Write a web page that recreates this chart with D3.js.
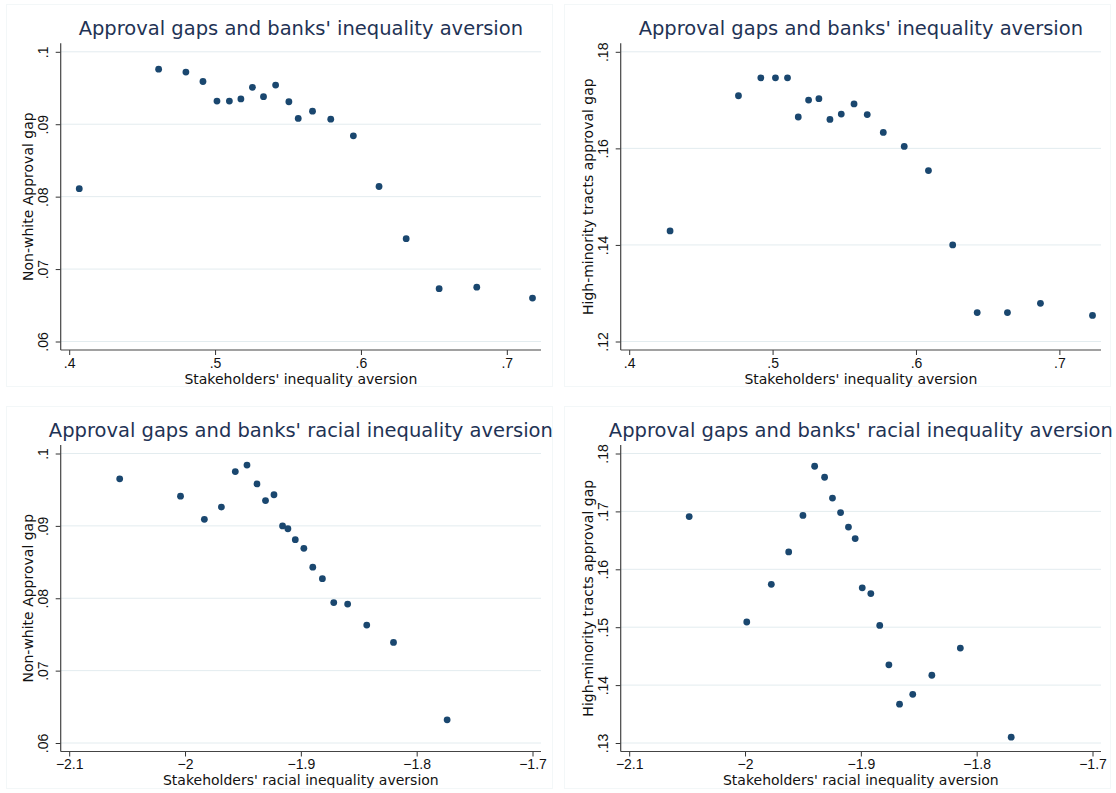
<!DOCTYPE html>
<html>
<head>
<meta charset="utf-8">
<script src="https://cdn.jsdelivr.net/npm/d3@7"></script>
<style>
  body { margin: 0; background: #fff; }
  svg { display: block; font-family: "DejaVu Sans", sans-serif; }
</style>
</head>
<body>
<div id="chart"></div>
<script>
// Binned scatter values
const ineqX1 = [.4069, .4613, .480, .4917, .5013, .5098, .5177, .5256, .5332, .5415, .5506, .557, .5668, .5793, .5948, .6124, .631, .6536, .6794, .7176];
const nonwhiteY1 = [.0811, .0976, .0972, .0959, .0932, .0932, .0935, .0951, .0938, .0954, .0931, .0908, .0918, .0907, .0884, .0814, .0742, .0673, .0675, .0660];

const ineqX2 = [.4285, .4762, .4918, .502, .5104, .5179, .5251, .5323, .54, .5479, .5568, .566, .5772, .5918, .6087, .6256, .6427, .6638, .6868, .7231];
const minorityY2 = [.1429, .1709, .1746, .1746, .1746, .1665, .17, .1703, .166, .1671, .1692, .167, .1633, .1604, .1554, .14, .126, .126, .1279, .1254];

const racialX3 = [-2.0564, -2.0039, -1.9833, -1.9686, -1.9566, -1.9465, -1.9379, -1.9305, -1.9232, -1.9158, -1.9112, -1.9048, -1.8974, -1.8897, -1.8814, -1.8716, -1.8596, -1.8431, -1.82, -1.7737];
const nonwhiteY3 = [.0965, .0941, .0909, .0926, .0975, .0984, .0958, .0935, .0943, .09, .0896, .0881, .0869, .0843, .0827, .0794, .0792, .0763, .0739, .0632];

const racialX4 = [-2.0482, -1.9985, -1.9773, -1.9623, -1.95, -1.9399, -1.9313, -1.9245, -1.9175, -1.9107, -1.9049, -1.8988, -1.8914, -1.8837, -1.8758, -1.8666, -1.8552, -1.8387, -1.8141, -1.7702];
const minorityY4 = [.1691, .1509, .1574, .163, .1693, .1778, .1759, .1723, .1698, .1673, .1653, .1568, .1558, .1503, .1435, .1367, .1384, .1417, .1464, .131];

// Tick values
const ineqTicks = [.4, .5, .6, .7];
const racialTicks = [-2.1, -2, -1.9, -1.8, -1.7];
const nonwhiteTicks = [.06, .07, .08, .09, .1];
const minorityTicks1 = [.12, .14, .16, .18];
const minorityTicks2 = [.13, .14, .15, .16, .17, .18];

// Titles
const titleIneq = "Approval gaps and banks' inequality aversion";
const titleRacial = "Approval gaps and banks' racial inequality aversion";
const xTitleIneq = "Stakeholders' inequality aversion";
const xTitleRacial = "Stakeholders' racial inequality aversion";
const yTitleNonwhite = "Non-white Approval gap";
const yTitleMinority = "High-minority tracts approval gap";

const width = 1116, height = 793;
const pad = 8.5;

// plot regions for the 2x2 grid
const cols = [[60.7, 541], [620.7, 1101]];
const rows = [[43.3, 350], [445, 751.5]];

const panels = [
  {col: 0, row: 0, xs: ineqX1, ys: nonwhiteY1, xTicks: ineqTicks, yTicks: nonwhiteTicks, title: titleIneq, xTitle: xTitleIneq, yTitle: yTitleNonwhite},
  {col: 1, row: 0, xs: ineqX2, ys: minorityY2, xTicks: ineqTicks, yTicks: minorityTicks1, title: titleIneq, xTitle: xTitleIneq, yTitle: yTitleMinority},
  {col: 0, row: 1, xs: racialX3, ys: nonwhiteY3, xTicks: racialTicks, yTicks: nonwhiteTicks, title: titleRacial, xTitle: xTitleRacial, yTitle: yTitleNonwhite},
  {col: 1, row: 1, xs: racialX4, ys: minorityY4, xTicks: racialTicks, yTicks: minorityTicks2, title: titleRacial, xTitle: xTitleRacial, yTitle: yTitleMinority}
];

// Stata style labels: drop the leading zero
const fmt = v => d3.format("~g")(v).replace(/^(-?)0\./, "$1.");

const svg = d3.select("#chart").append("svg")
  .attr("width", width)
  .attr("height", height);

// faint graph-region borders
[[6, 4], [564, 4], [6, 406], [564, 406]].forEach(([bx, by]) => {
  svg.append("rect")
    .attr("x", bx + 0.5).attr("y", by + 0.5)
    .attr("width", 546).attr("height", 382)
    .attr("fill", "none")
    .attr("stroke", "#f3f7f8");
});

panels.forEach(p => {
  const [x0, x1] = cols[p.col];
  const [y0, y1] = rows[p.row];

  const x = d3.scaleLinear()
    .domain([Math.min(p.xTicks[0], d3.min(p.xs)), Math.max(p.xTicks[p.xTicks.length - 1], d3.max(p.xs))])
    .range([x0 + pad, x1 - pad]);
  const y = d3.scaleLinear()
    .domain([Math.min(p.yTicks[0], d3.min(p.ys)), Math.max(p.yTicks[p.yTicks.length - 1], d3.max(p.ys))])
    .range([y1 - pad, y0 + pad]);

  const g = svg.append("g");

  // gridlines
  g.append("g").selectAll("line")
    .data(p.yTicks)
    .join("line")
    .attr("x1", x0).attr("x2", x1)
    .attr("y1", d => y(d)).attr("y2", d => y(d))
    .attr("stroke", "#e3ecef")
    .attr("stroke-width", 1);

  // y axis
  const yAxis = g.append("g")
    .attr("transform", `translate(${x0},0)`)
    .call(d3.axisLeft(y).tickValues(p.yTicks).tickSize(5).tickFormat(fmt));
  yAxis.select(".domain").remove();
  yAxis.selectAll(".tick line").attr("stroke", "#333");
  yAxis.selectAll(".tick text")
    .attr("x", null).attr("dy", "0.35em")
    .attr("transform", "translate(-18,0) rotate(-90)")
    .attr("text-anchor", "middle")
    .attr("font-size", 14)
    .attr("fill", "#111");

  // x axis
  const xAxis = g.append("g")
    .attr("transform", `translate(0,${y1})`)
    .call(d3.axisBottom(x).tickValues(p.xTicks).tickSize(5).tickPadding(3).tickFormat(fmt));
  xAxis.select(".domain").remove();
  xAxis.selectAll(".tick line").attr("stroke", "#333");
  xAxis.selectAll(".tick text")
    .attr("font-size", 14)
    .attr("fill", "#111");

  // axis lines over the full plot region
  g.append("line")
    .attr("x1", x0).attr("x2", x0).attr("y1", y0).attr("y2", y1)
    .attr("stroke", "#444").attr("stroke-width", 1.2);
  g.append("line")
    .attr("x1", x0).attr("x2", x1).attr("y1", y1).attr("y2", y1)
    .attr("stroke", "#444").attr("stroke-width", 1.2);

  // axis titles
  g.append("text")
    .attr("x", (x0 + x1) / 2).attr("y", y1 + 33.5)
    .attr("text-anchor", "middle")
    .attr("font-size", 14)
    .attr("fill", "#111")
    .text(p.xTitle);
  g.append("text")
    .attr("transform", `translate(${x0 - 32.3},${(y0 + y1) / 2}) rotate(-90)`)
    .attr("dy", "0.35em")
    .attr("text-anchor", "middle")
    .attr("font-size", 14)
    .attr("fill", "#111")
    .text(p.yTitle);

  // panel title
  g.append("text")
    .attr("x", (x0 + x1) / 2).attr("y", y0 - 8)
    .attr("text-anchor", "middle")
    .attr("font-size", 19.5)
    .attr("fill", "#1f3355")
    .text(p.title);

  // points
  g.append("g").selectAll("circle")
    .data(d3.zip(p.xs, p.ys))
    .join("circle")
    .attr("cx", d => x(d[0]))
    .attr("cy", d => y(d[1]))
    .attr("r", 3.4)
    .attr("fill", "#1a476f");
});
</script>
</body>
</html>
